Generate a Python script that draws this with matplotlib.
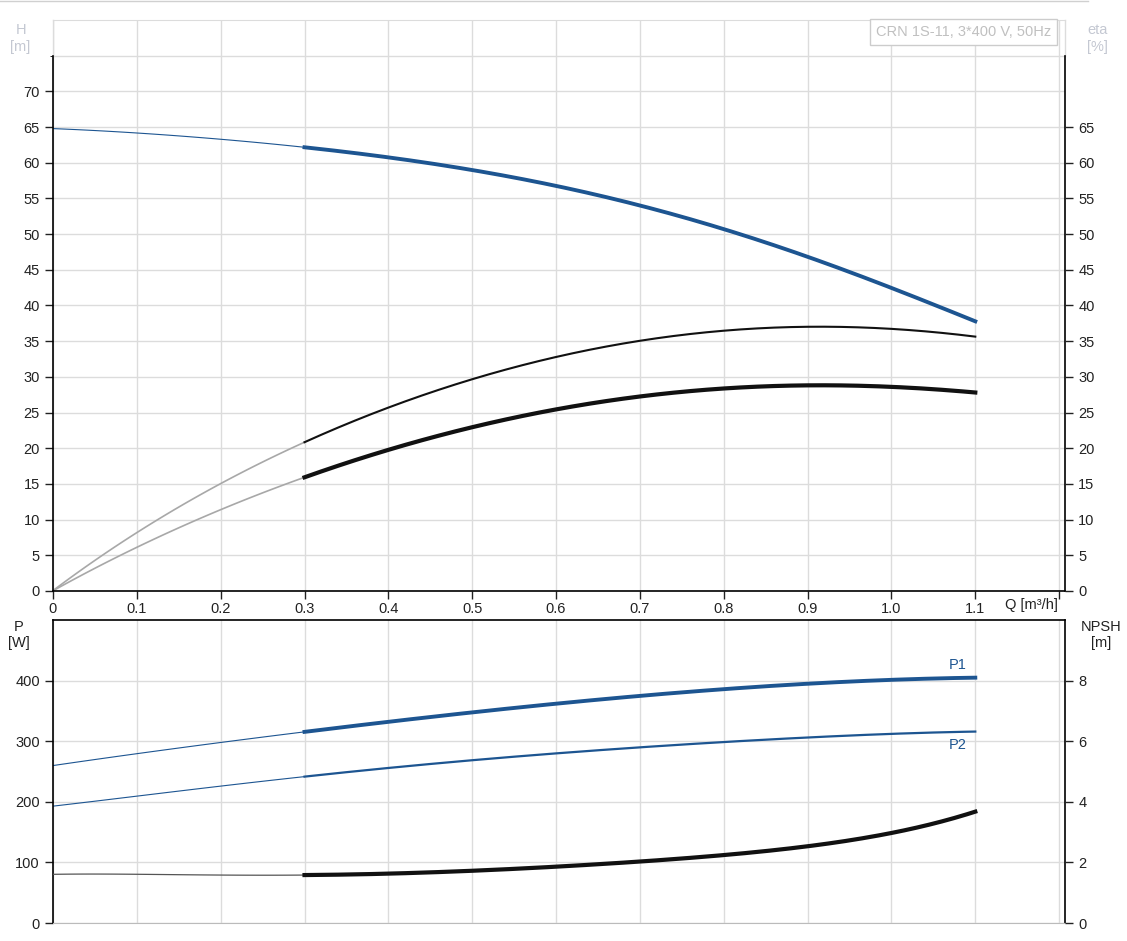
import numpy as np
import matplotlib
matplotlib.use('Agg')
from matplotlib import pyplot as plt
from matplotlib.lines import Line2D

plt.rcParams['font.family'] = ['Liberation Sans', 'DejaVu Sans']

'''
Data read off the reference
'''
q = [0.0, 0.1, 0.2, 0.3, 0.4, 0.5, 0.6, 0.7, 0.8, 0.9, 1.0, 1.1]
head = [64.8, 64.1, 63.3, 62.2, 60.8, 58.9, 56.7, 54.0, 50.8, 46.8, 42.4, 37.8]
eta_high = [0.0, 8.3, 15.0, 20.7, 25.7, 29.8, 32.8, 35.0, 36.4, 37.0, 36.8, 35.6]
eta_low = [0.0, 6.2, 11.3, 15.9, 19.8, 23.0, 25.4, 27.2, 28.4, 28.8, 28.6, 27.8]
p1 = [260, 279, 298, 316, 332, 347, 362, 375, 386, 395, 401, 405]
p2 = [193, 209, 226, 242, 256, 268, 280, 290, 299, 306, 312, 316]
npsh = [1.61, 1.60, 1.59, 1.58, 1.64, 1.72, 1.85, 2.03, 2.25, 2.54, 2.96, 3.68]

q_ticks = [0, 0.1, 0.2, 0.3, 0.4, 0.5, 0.6, 0.7, 0.8, 0.9, 1.0, 1.1, 1.2]
q_labels = ['0', '0.1', '0.2', '0.3', '0.4', '0.5', '0.6', '0.7', '0.8', '0.9', '1.0', '1.1', '']
h_ticks = list(range(0, 75, 5))
eta_ticks = list(range(0, 70, 5))
p_ticks = [0, 100, 200, 300, 400]
npsh_ticks = [0, 2, 4, 6, 8]

blue = '#1d5591'
grid = '#dcdcdc'
faint = '#c4c8d2'
dark = '#222222'
split = 3  # index where thin part ends (Q = 0.3)

'''
Smooth a curve through the read points
'''
def smooth(x, y, n=221):
    xs = np.linspace(x[0], x[-1], n)
    coef = np.polyfit(x, y, 5)
    return xs, np.polyval(coef, xs)

def draw(ax, x, y, thin_color, thick_color, thin_w, thick_w):
    xs, ys = smooth(x, y)
    a = xs <= x[split] + 1e-9
    b = xs >= x[split] - 1e-9
    ax.plot(xs[a], ys[a], color=thin_color, lw=thin_w)
    ax.plot(xs[b], ys[b], color=thick_color, lw=thick_w)

fig = plt.figure(figsize=(11.27, 9.41), dpi=100)
fig.add_artist(Line2D([0, 0.965], [0.999, 0.999], color='#d0d0d0', lw=1))

'''
Upper chart: head and efficiency
'''
ax = fig.add_axes([0.047, 0.372, 0.898, 0.6068])
ax.set_xlim(0, 1.207)
ax.set_ylim(0, 80)
ax.set_xticks(q_ticks)
ax.set_xticklabels(q_labels)
ax.set_yticks(h_ticks)
ax.set_yticklabels([str(v) for v in h_ticks])
ax.set_yticks([75], minor=True)
ax.grid(True, color=grid, lw=1)
ax.grid(True, which='minor', axis='y', color=grid, lw=1)
ax.tick_params(which='minor', left=False)
ax.tick_params(axis='both', colors=dark, labelsize=10.5, length=6, width=1)
ax.tick_params(axis='x', pad=2)
ax.spines['top'].set_color(grid)
ax.spines['left'].set_bounds(0, 75)
ax.spines['right'].set_bounds(0, 75)
for s in ['left', 'right', 'bottom']:
    ax.spines[s].set_color('black')
    ax.spines[s].set_linewidth(1.2)
ax.plot([0, 0], [75, 80], color=grid, lw=1, clip_on=False)
ax.plot([1.207, 1.207], [75, 80], color=grid, lw=1, clip_on=False)

draw(ax, q, head, blue, blue, 0.8, 2.8)
draw(ax, q, eta_high, '#a8a8a8', '#111111', 1.2, 1.5)
draw(ax, q, eta_low, '#a8a8a8', '#111111', 1.2, 3.0)

axr = ax.twinx()
axr.set_ylim(0, 80)
axr.set_yticks(eta_ticks)
axr.tick_params(axis='y', colors=dark, labelsize=10.5, length=6, width=1)
for s in axr.spines.values():
    s.set_visible(False)

ax.text(-0.032, 0.968, 'H\n[m]', transform=ax.transAxes, ha='center', va='center',
        fontsize=10.5, color=faint, linespacing=1.3)
ax.text(1.032, 0.968, 'eta\n[%]', transform=ax.transAxes, ha='center', va='center',
        fontsize=10.5, color=faint, linespacing=1.3)
ax.text(0.993, -0.025, 'Q [m³/h]', transform=ax.transAxes, ha='right', va='center',
        fontsize=10.5, color=dark)
ax.text(0.986, 0.979, 'CRN 1S-11, 3*400 V, 50Hz', transform=ax.transAxes, ha='right',
        va='center', fontsize=10.5, color='#c0c0c0',
        bbox=dict(boxstyle='square,pad=0.4', fc='white', ec='#cccccc', lw=1))

'''
Lower chart: power and NPSH
'''
bx = fig.add_axes([0.047, 0.0191, 0.898, 0.322])
bx.set_xlim(0, 1.207)
bx.set_ylim(0, 500)
bx.set_xticks(q_ticks)
bx.set_xticklabels([])
bx.set_yticks(p_ticks)
bx.grid(True, color=grid, lw=1)
bx.tick_params(axis='x', length=0)
bx.tick_params(axis='y', colors=dark, labelsize=10.5, length=6, width=1)
bx.spines['bottom'].set_color('#bbbbbb')
for s in ['left', 'right', 'top']:
    bx.spines[s].set_color('black')
    bx.spines[s].set_linewidth(1.2)

draw(bx, q, p1, blue, blue, 0.8, 2.8)
draw(bx, q, p2, blue, blue, 0.8, 1.6)

bxr = bx.twinx()
bxr.set_ylim(0, 10)
bxr.set_yticks(npsh_ticks)
bxr.tick_params(axis='y', colors=dark, labelsize=10.5, length=6, width=1)
for s in bxr.spines.values():
    s.set_visible(False)
draw(bxr, q, npsh, '#555555', '#111111', 0.9, 3.0)

bx.text(q[-1] - 0.01, p1[-1] + 10, 'P1', ha='right', va='bottom', fontsize=10.5, color=blue)
bx.text(q[-1] - 0.01, p2[-1] - 10, 'P2', ha='right', va='top', fontsize=10.5, color=blue)
bx.text(-0.034, 1.0, 'P\n[W]', transform=bx.transAxes, ha='center', va='top',
        fontsize=10.5, color=dark, linespacing=1.2)
bx.text(1.036, 1.0, 'NPSH\n[m]', transform=bx.transAxes, ha='center', va='top',
        fontsize=10.5, color=dark, linespacing=1.2)

fig.savefig('out.png', dpi=100)
